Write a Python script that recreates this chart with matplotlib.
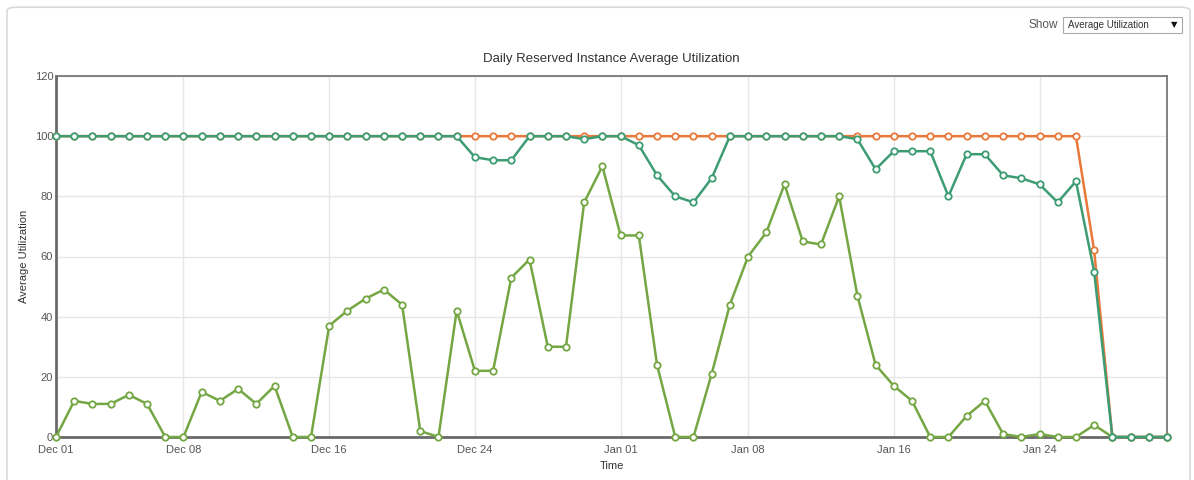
import matplotlib.pyplot as plt
import matplotlib.dates as mdates
from matplotlib.patches import FancyBboxPatch, Rectangle
import pandas as pd

plt.rcParams['font.family'] = ['Liberation Sans', 'DejaVu Sans']

days = pd.date_range('2015-12-01', '2016-01-31', freq='D')

# daily utilization per series (percent)
reserved = [100] * 57 + [62, 0, 0, 0, 0]
running = ([100] * 23 +
           [93, 92, 92, 100, 100, 100, 99, 100, 100, 97, 87, 80, 78, 86,
            100, 100, 100, 100, 100, 100, 100, 99, 89, 95, 95, 95, 80, 94,
            94, 87, 86, 84, 78, 85, 55, 0, 0, 0, 0])
used = [0, 12, 11, 11, 14, 11, 0, 0, 15, 12, 16, 11, 17, 0, 0, 37, 42, 46,
        49, 44, 2, 0, 42, 22, 22, 53, 59, 30, 30, 78, 90, 67, 67, 24, 0, 0,
        21, 44, 60, 68, 84, 65, 64, 80, 47, 24, 17, 12, 0, 0, 7, 12, 1, 0,
        1, 0, 0, 4, 0, 0, 0, 0]

tick_dates = pd.to_datetime(['2015-12-01', '2015-12-08', '2015-12-16',
                             '2015-12-24', '2016-01-01', '2016-01-08',
                             '2016-01-16', '2016-01-24'])

fig = plt.figure(figsize=(11.94, 4.8), dpi=100)

# outer panel border
panel = FancyBboxPatch((7 / 1194, -0.05), 1183 / 1194, 1.035, transform=fig.transFigure,
                       boxstyle='round,pad=0,rounding_size=0.008',
                       facecolor='none', edgecolor='#d9d9d9', lw=1.2, zorder=-1)
fig.patches.append(panel)

ax = fig.add_axes([56 / 1194, 1 - 437 / 480, (1167 - 56) / 1194, (437 - 76) / 480])

style = dict(lw=1.8, marker='o', ms=4.6, mfc='white', mew=1.3,
             clip_on=False, zorder=4)
ax.plot(days, used, color='#74a743', **style)
ax.plot(days, reserved, color='#e8793a', **style)
ax.plot(days, running, color='#3d9c74', **style)

ax.set_xlim(days[0], days[-1])
ax.set_ylim(0, 120)
ax.set_yticks(range(0, 121, 20))
ax.set_xticks(tick_dates)
ax.xaxis.set_major_formatter(mdates.DateFormatter('%b %d'))
ax.tick_params(length=0, labelsize=8, labelcolor='#555555')
ax.tick_params(axis='x', pad=6)
ax.tick_params(axis='y', pad=2)
ax.grid(True, color='#e6e6e6', lw=1)
ax.set_axisbelow(True)
for side in ['left', 'bottom']:
    ax.spines[side].set_color('#6a6a6a')
    ax.spines[side].set_linewidth(2)
for side in ['top', 'right']:
    ax.spines[side].set_color('#777777')
    ax.spines[side].set_linewidth(1.3)

ax.set_title('Daily Reserved Instance Average Utilization', fontsize=9.5,
             color='#333333', pad=10)
ax.set_xlabel('Time', fontsize=8, color='#333333', labelpad=4)
ax.set_ylabel('Average Utilization', fontsize=8, color='#333333', labelpad=4)

# "Show" selector in the corner
fig.text(1043 / 1194, 1 - 25 / 480, 'Show', fontsize=8.5, color='#555555',
         ha='center', va='center')
fig.patches.append(Rectangle((1063 / 1194, 1 - 33 / 480), 119 / 1194, 16 / 480,
                             transform=fig.transFigure, facecolor='white',
                             edgecolor='#aaaaaa', lw=0.8))
fig.text(1068 / 1194, 1 - 25 / 480, 'Average Utilization', fontsize=7,
         color='#333333', ha='left', va='center')
fig.text(1174 / 1194, 1 - 25 / 480, '\u25bc', fontsize=6, color='#111111',
         ha='center', va='center', family='DejaVu Sans')

fig.savefig('out.png', dpi=100)
